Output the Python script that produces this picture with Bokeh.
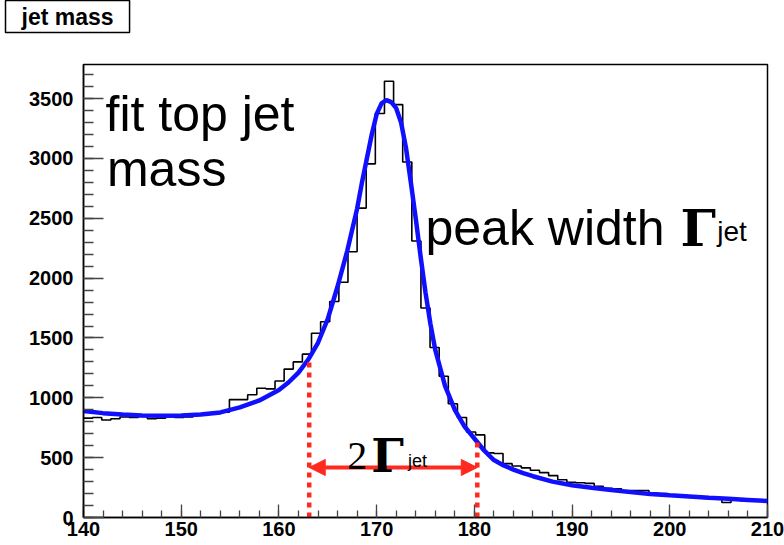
import numpy as np
from bokeh.plotting import figure
from bokeh.models import Range1d, FixedTicker, Label, Title, Arrow, NormalHead
from bokeh.embed import file_html
from bokeh.resources import INLINE

# ---- data ----
bin_lo, bin_hi, n_bins = 140.0, 210.0, 75
counts = [830, 835, 815, 825, 840, 835, 845, 825, 830, 840,
          835, 840, 860, 865, 870, 880, 985, 985, 1025, 1080,
          1075, 1140, 1240, 1300, 1365, 1540, 1635, 1805, 1965, 2220,
          2585, 2955, 3375, 3645, 3450, 2970, 2310, 1750, 1420, 1180,
          950, 835, 715, 690, 540, 535, 450, 430, 415, 395,
          375, 350, 315, 295, 290, 285, 260, 245, 240, 225,
          225, 225, 205, 200, 180, 175, 170, 165, 160, 155,
          125, 145, 140, 140, 140]

fit_x = [140, 142, 144, 146, 148, 150, 152, 154, 156, 158, 160, 161, 162, 163, 164, 165,
         166, 167, 168, 168.5, 169, 169.5, 170, 170.5, 171, 171.5, 172, 172.5, 173, 173.5,
         174, 174.5, 175, 175.5, 176, 177, 178, 179, 180, 181, 182, 183, 184, 185, 186,
         188, 190, 192, 194, 196, 198, 200, 202, 204, 206, 208, 210]
fit_y = [890, 872, 860, 853, 850, 852, 860, 878, 920, 978, 1065, 1130, 1210, 1320, 1460, 1660,
         1930, 2230, 2580, 2800, 3000, 3200, 3370, 3460, 3487, 3470, 3420, 3300, 3090, 2800,
         2500, 2180, 1880, 1620, 1400, 1100, 900, 760, 660, 560, 480, 435, 400, 370, 345,
         300, 270, 248, 230, 212, 196, 185, 175, 165, 156, 147, 138]

x_ticks = [140, 150, 160, 170, 180, 190, 200, 210]
y_ticks = [0, 500, 1000, 1500, 2000, 2500, 3000, 3500]

gamma_lo, gamma_hi = 163.1, 180.3
gamma_lo_h, gamma_hi_h = 1330, 640
arrow_y = 418

title_text = "jet mass"

# ---- figure ----
p = figure(width=784, height=545, output_backend="svg", toolbar_location=None,
           x_range=Range1d(140, 210), y_range=Range1d(0, 3785),
           min_border_left=83, min_border_right=17, min_border_top=62, min_border_bottom=28)
p.grid.visible = False
p.outline_line_color = "black"
p.outline_line_width = 1.5
p.background_fill_color = "white"
p.border_fill_color = "white"

for ax in (p.xaxis[0], p.yaxis[0]):
    ax.axis_line_color = "black"
    ax.axis_line_width = 1.5
    ax.major_tick_out = 0
    ax.minor_tick_out = 0
    ax.major_tick_line_color = "#444444"
    ax.minor_tick_line_color = "#444444"
    ax.major_tick_line_width = 1.3
    ax.minor_tick_line_width = 1.3
    ax.major_label_text_font = "Liberation Sans"
    ax.major_label_text_font_style = "bold"
    ax.major_label_text_color = "black"

p.xaxis.ticker = FixedTicker(ticks=x_ticks, minor_ticks=list(range(140, 211, 2)))
p.xaxis.major_tick_in = 13
p.xaxis.minor_tick_in = 7
p.xaxis.major_label_text_font_size = "20px"
p.xaxis.major_label_standoff = 4

p.yaxis.ticker = FixedTicker(ticks=y_ticks, minor_ticks=list(range(0, 3800, 100)))
p.yaxis.major_tick_in = 20
p.yaxis.minor_tick_in = 10
p.yaxis.major_label_text_font_size = "20px"
p.yaxis.major_label_standoff = 10

# spacer (closest to frame) then title box
p.add_layout(Title(text=" ", text_font_size="1px", standoff=27), "above")
p.add_layout(Title(text=title_text, align="left", offset=-78, standoff=0, vertical_align="top",
                   text_font="Liberation Sans", text_font_style="bold", text_font_size="23px",
                   text_color="black", background_fill_color="white", border_line_color="black",
                   border_line_width=1.5, padding=(16, 3)), "above")

# histogram
edges = list(np.linspace(bin_lo, bin_hi, n_bins + 1))
p.step(edges, counts + [counts[-1]], mode="after", line_color="black", line_width=1.6)

# fit
p.line(fit_x, fit_y, line_color="#1010ff", line_width=4.5)

red = "#ff2a1f"
p.segment(x0=[gamma_lo, gamma_hi], y0=[0, 0], x1=[gamma_lo, gamma_hi], y1=[gamma_lo_h, gamma_hi_h],
          line_color=red, line_width=4.5, line_dash="5 5")
p.add_layout(Arrow(start=NormalHead(size=16, fill_color=red, line_color=red),
                   end=NormalHead(size=16, fill_color=red, line_color=red),
                   x_start=gamma_lo, x_end=gamma_hi, y_start=arrow_y, y_end=arrow_y,
                   line_color=red, line_width=4))

# texts
def lab(x, y, t, size, font="Liberation Sans", style="normal"):
    p.add_layout(Label(x=x, y=y, text=t, text_font=font, text_font_size=size, text_font_style=style,
                       text_baseline="alphabetic", text_align="left", text_color="black"))

lab(142.25, 3372, "fit top jet", "50px")
lab(142.4, 2914, "mass", "50px")
lab(175.0, 2415, "peak width", "50px")
lab(201.1, 2415, "Γ", "50px", "DejaVu Serif", "bold")
lab(204.85, 2388, "jet", "28px")
lab(166.99, 516, "2", "40px", "Liberation Serif")
lab(169.45, 516, "Γ", "46px", "DejaVu Serif", "bold")
lab(173.2, 474, "jet", "18px")

open("out.html", "w").write(file_html(p, INLINE))
